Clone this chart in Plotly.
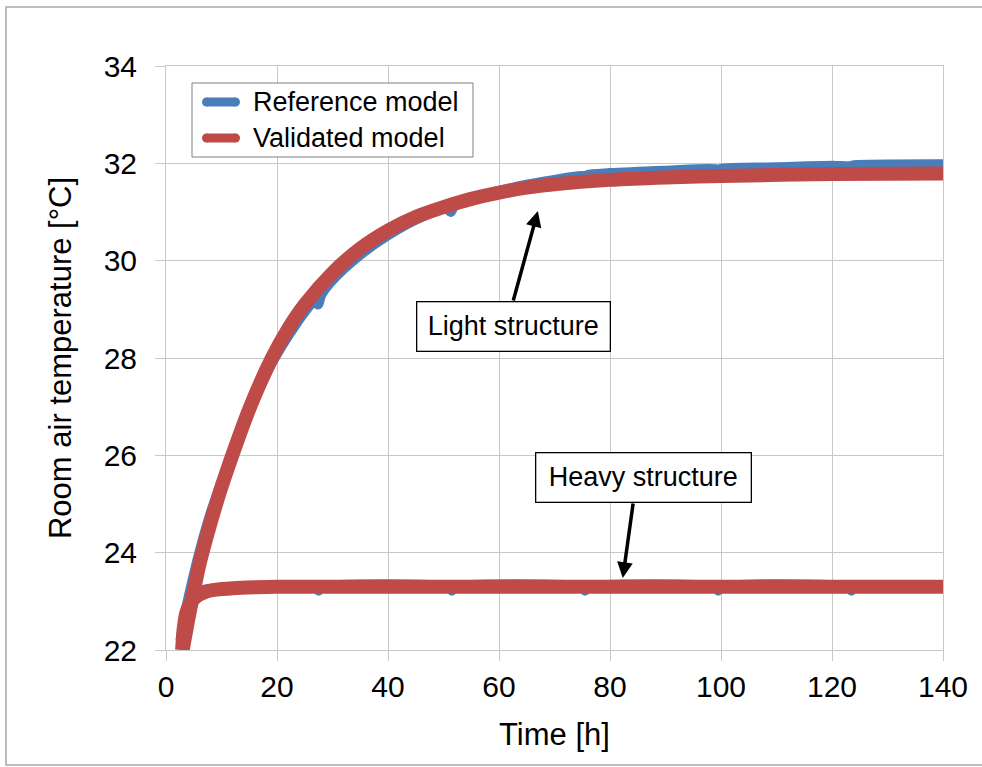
import plotly.graph_objects as go

# Time axis [h] and room air temperature [°C]
light_ref_t = [2.6, 3.5, 4.5, 6.0, 8.0, 10.0, 12.0, 15.0, 19.0, 22.0, 25.0, 27.0, 27.4, 28.0,
               30.0, 35.0, 40.0, 45.0, 50.5, 51.3, 52.0, 55.0, 60.0, 65.0, 70.0, 75.0, 75.4,
               76.0, 80.0, 90.0, 99.0, 99.4, 100.0, 110.0, 120.0, 123.3, 124.0, 140.0]
light_ref_T = [22.2, 22.78, 23.3, 24.0, 24.8, 25.45, 26.05, 26.9, 27.88, 28.45, 28.95, 29.2, 29.1, 29.3,
               29.6, 30.12, 30.52, 30.84, 31.08, 31.0, 31.14, 31.27, 31.43, 31.56, 31.66, 31.74, 31.71,
               31.76, 31.8, 31.85, 31.88, 31.85, 31.89, 31.92, 31.95, 31.94, 31.96, 31.98]

light_val_t = [3.0, 4.0, 5.0, 6.0, 8.0, 10.0, 12.0, 15.0, 19.0, 22.0, 25.0, 30.0, 35.0, 40.0,
               45.0, 50.0, 55.0, 60.0, 65.0, 70.0, 80.0, 90.0, 100.0, 120.0, 140.0]
light_val_T = [22.0, 22.62, 23.2, 23.75, 24.6, 25.35, 26.02, 26.95, 27.98, 28.6, 29.1, 29.75, 30.25, 30.62,
               30.9, 31.1, 31.27, 31.4, 31.5, 31.57, 31.66, 31.71, 31.74, 31.78, 31.79]

heavy_ref_t = [2.7, 3.2, 3.8, 4.5, 5.5, 7.0, 9.0, 12.0, 20.0, 27.0, 27.5, 28.0, 51.0, 51.5, 52.0,
               75.0, 75.5, 76.0, 99.0, 99.5, 100.0, 123.0, 123.5, 124.0, 140.0]
heavy_ref_T = [22.2, 22.6, 22.9, 23.08, 23.18, 23.24, 23.27, 23.29, 23.3, 23.3, 23.22, 23.3, 23.3, 23.22, 23.3,
               23.3, 23.22, 23.3, 23.3, 23.22, 23.3, 23.3, 23.22, 23.3, 23.3]

heavy_val_t = [2.9, 3.2, 3.7, 4.5, 5.5, 7.0, 9.0, 12.0, 16.0, 20.0, 40.0, 60.0, 80.0, 100.0, 120.0, 140.0]
heavy_val_T = [22.0, 22.45, 22.78, 22.98, 23.1, 23.19, 23.24, 23.27, 23.29, 23.3, 23.3, 23.3, 23.3, 23.3,
               23.3, 23.3]

series_names = ["Reference model", "Validated model"]
x_ticks = [0, 20, 40, 60, 80, 100, 120, 140]
y_ticks = [22, 24, 26, 28, 30, 32, 34]

BLUE = "#4A7EBB"
RED = "#BE4B48"
FONT = "Liberation Sans, Arial, sans-serif"
GRID = "#c8c8c8"

# Plot-area geometry in pixels, used to place the legend box in paper units
W, H = 982, 767
ML, MR, MT, MB = 166, 39, 66, 117
PW, PH = W - ML - MR, H - MT - MB


def px(xp):
    return (xp - ML) / PW


def py(yp):
    return (H - MB - yp) / PH


fig = go.Figure()

fig.add_trace(go.Scatter(x=light_ref_t, y=light_ref_T, mode="lines", name=series_names[0],
                         showlegend=False, line=dict(color=BLUE, width=10, shape="spline", smoothing=0.8)))
fig.add_trace(go.Scatter(x=heavy_ref_t, y=heavy_ref_T, mode="lines", name=series_names[0],
                         showlegend=False, line=dict(color=BLUE, width=10, shape="spline", smoothing=0.6)))
fig.add_trace(go.Scatter(x=light_val_t, y=light_val_T, mode="lines", name=series_names[1],
                         showlegend=False, line=dict(color=RED, width=14, shape="spline", smoothing=0.8)))
fig.add_trace(go.Scatter(x=heavy_val_t, y=heavy_val_T, mode="lines", name=series_names[1],
                         showlegend=False, line=dict(color=RED, width=14, shape="spline", smoothing=0.6)))

# Legend box with rounded line samples
fig.add_shape(type="rect", xref="paper", yref="paper", x0=px(192), x1=px(473), y0=py(157), y1=py(83),
              line=dict(color="#808080", width=1), fillcolor="white", layer="above")
for name, color, row_y in [(series_names[0], BLUE, 102), (series_names[1], RED, 138)]:
    half = 4.5
    fig.add_shape(type="rect", xref="paper", yref="paper", x0=px(206.5), x1=px(235.5),
                  y0=py(row_y + half), y1=py(row_y - half), line=dict(width=0), fillcolor=color,
                  layer="above")
    for cx in (206.5, 235.5):
        fig.add_shape(type="circle", xref="paper", yref="paper", x0=px(cx - half), x1=px(cx + half),
                      y0=py(row_y + half), y1=py(row_y - half), line=dict(width=0), fillcolor=color,
                      layer="above")
    fig.add_annotation(x=px(251), y=py(row_y), xref="paper", yref="paper", text=name, showarrow=False,
                       xanchor="left", yanchor="middle", font=dict(family=FONT, size=27, color="black"))

# Callout boxes
for txt, cx, cy, w in [("Light structure", 62.7, 28.64, 192), ("Heavy structure", 86.1, 25.55, 214)]:
    fig.add_annotation(x=cx, y=cy, xref="x", yref="y", text=txt, showarrow=False,
                       font=dict(family=FONT, size=27, color="black"),
                       bgcolor="white", bordercolor="black", borderwidth=1.3, borderpad=0,
                       width=w, height=48, xanchor="center", yanchor="middle")

# Arrows from the callouts to the curves
for tail, head in [((62.5, 29.15), (67.0, 31.02)), ((84.2, 25.04), (82.3, 23.48))]:
    fig.add_annotation(x=head[0], y=head[1], ax=tail[0], ay=tail[1], xref="x", yref="y",
                       axref="x", ayref="y", text="", showarrow=True, arrowhead=2,
                       arrowsize=0.9, arrowwidth=3.5, arrowcolor="black")

# Thin frame around the whole chart
fig.add_shape(type="rect", xref="paper", yref="paper", x0=px(6), x1=px(1100), y0=py(765), y1=py(7),
              line=dict(color="#a6a6a6", width=1.5), layer="below")

fig.update_layout(
    width=W, height=H,
    margin=dict(l=ML, r=MR, t=MT, b=MB),
    paper_bgcolor="white", plot_bgcolor="white",
    font=dict(family=FONT, color="black"),
    showlegend=False,
    xaxis=dict(range=[0, 140], tickvals=x_ticks, ticktext=[str(v) for v in x_ticks],
               showgrid=True, gridcolor=GRID, gridwidth=1, zeroline=False,
               showline=True, linecolor=GRID, linewidth=1, mirror=True,
               ticks="outside", ticklen=10, tickcolor=GRID, tickwidth=1,
               tickfont=dict(family=FONT, size=30, color="black"),
               title=dict(text="Time [h]", font=dict(family=FONT, size=31, color="black"), standoff=21)),
    yaxis=dict(range=[22, 34], tickvals=y_ticks, ticktext=[str(v) for v in y_ticks],
               showgrid=True, gridcolor=GRID, gridwidth=1, zeroline=False,
               showline=True, linecolor=GRID, linewidth=1, mirror=True,
               ticks="outside", ticklen=10, tickcolor=GRID, tickwidth=1,
               ticklabelstandoff=12,
               tickfont=dict(family=FONT, size=30, color="black"),
               title=dict(text="Room air temperature [°C]", font=dict(family=FONT, size=31, color="black"),
                          standoff=22)),
)

fig.write_html("out.html")
